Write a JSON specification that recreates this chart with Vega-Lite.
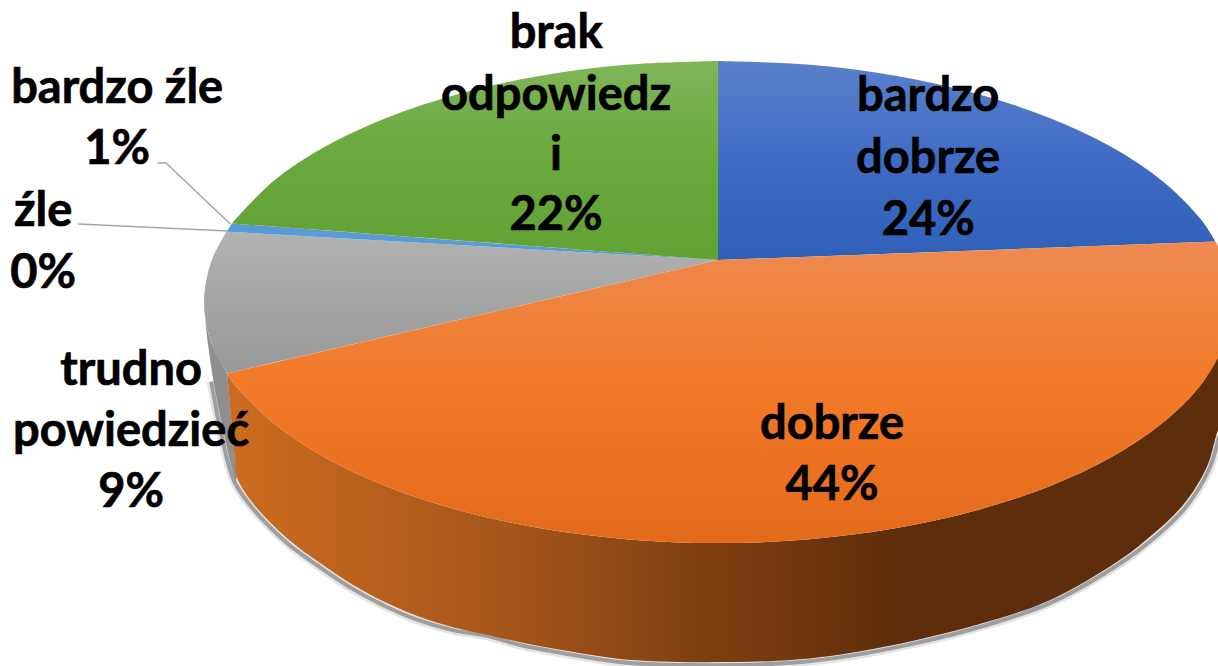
{
"$schema":"https://vega.github.io/schema/vega-lite/v6.json",
"width":1218,"height":666,"padding":0,
"autosize":{"type":"fit","contains":"padding"},
"background":"white",
"view":{"stroke":null},
"datasets":{
"outline":[
{"part":"shadow","n":0,"x":-98.6,"y":-33},{"part":"shadow","n":1,"x":-96.9,"y":-52},{"part":"shadow","n":2,"x":-94.2,"y":-74},{"part":"shadow","n":3,"x":-90.9,"y":-84.6},{"part":"shadow","n":4,"x":-84.3,"y":-99.1},{"part":"shadow","n":5,"x":-77.8,"y":-109.5},{"part":"shadow","n":6,"x":-71.4,"y":-118.6},{"part":"shadow","n":7,"x":-64.8,"y":-126.1},{"part":"shadow","n":8,"x":-58.4,"y":-131.9},{"part":"shadow","n":9,"x":-51.6,"y":-136.1},{"part":"shadow","n":10,"x":-44.9,"y":-138.5},{"part":"shadow","n":11,"x":-38.5,"y":-142.3},{"part":"shadow","n":12,"x":-29.2,"y":-146},{"part":"shadow","n":13,"x":-19.1,"y":-149.3},{"part":"shadow","n":14,"x":-5.8,"y":-150.6},{"part":"shadow","n":15,"x":14.2,"y":-149.7},{"part":"shadow","n":16,"x":25.7,"y":-146.8},{"part":"shadow","n":17,"x":38.7,"y":-141.4},{"part":"shadow","n":18,"x":51.6,"y":-134.4},{"part":"shadow","n":19,"x":64.6,"y":-124.9},{"part":"shadow","n":20,"x":77.8,"y":-109.1},{"part":"shadow","n":21,"x":84.4,"y":-98.7},{"part":"shadow","n":22,"x":90.9,"y":-85.4},{"part":"shadow","n":23,"x":95.5,"y":-69.7},{"part":"shadow","n":24,"x":97.5,"y":-55.6},
{"part":"side trudno powiedzieć","n":0,"x":-95.5,"y":-29.6},{"part":"side trudno powiedzieć","n":1,"x":-95.5,"y":-29.6},{"part":"side trudno powiedzieć","n":2,"x":-98.5,"y":-17.4},{"part":"side trudno powiedzieć","n":3,"x":-99.8,"y":-7},{"part":"side trudno powiedzieć","n":4,"x":-99.8,"y":-7},{"part":"side trudno powiedzieć","n":5,"x":-99.2,"y":-17.8},{"part":"side trudno powiedzieć","n":6,"x":-98.2,"y":-32.4},{"part":"side trudno powiedzieć","n":7,"x":-96.5,"y":-51},{"part":"side trudno powiedzieć","n":8,"x":-93.8,"y":-73.9},{"part":"side trudno powiedzieć","n":9,"x":-93.6,"y":-72.6},{"part":"side trudno powiedzieć","n":10,"x":-94,"y":-64.3},
{"part":"side dobrze","n":0,"x":98.5,"y":-17.4},{"part":"side dobrze","n":1,"x":98.5,"y":-17.4},{"part":"side dobrze","n":2,"x":94,"y":-34.2},{"part":"side dobrze","n":3,"x":86.6,"y":-50},{"part":"side dobrze","n":4,"x":76.6,"y":-64.3},{"part":"side dobrze","n":5,"x":64.3,"y":-76.6},{"part":"side dobrze","n":6,"x":50,"y":-86.6},{"part":"side dobrze","n":7,"x":34.2,"y":-94},{"part":"side dobrze","n":8,"x":17.4,"y":-98.5},{"part":"side dobrze","n":9,"x":0,"y":-100},{"part":"side dobrze","n":10,"x":-17.4,"y":-98.5},{"part":"side dobrze","n":11,"x":-34.2,"y":-94},{"part":"side dobrze","n":12,"x":-50,"y":-86.6},{"part":"side dobrze","n":13,"x":-64.3,"y":-76.6},{"part":"side dobrze","n":14,"x":-76.6,"y":-64.3},{"part":"side dobrze","n":15,"x":-86.6,"y":-50},{"part":"side dobrze","n":16,"x":-94,"y":-34.2},{"part":"side dobrze","n":17,"x":-95.5,"y":-29.6},{"part":"side dobrze","n":18,"x":-95.5,"y":-29.6},{"part":"side dobrze","n":19,"x":-94,"y":-64.3},{"part":"side dobrze","n":20,"x":-93.6,"y":-72.6},{"part":"side dobrze","n":21,"x":-90.5,"y":-83.4},{"part":"side dobrze","n":22,"x":-83.9,"y":-97.9},{"part":"side dobrze","n":23,"x":-77.4,"y":-108.3},{"part":"side dobrze","n":24,"x":-71,"y":-117.4},{"part":"side dobrze","n":25,"x":-64.4,"y":-124.9},{"part":"side dobrze","n":26,"x":-58,"y":-130.7},{"part":"side dobrze","n":27,"x":-51.6,"y":-134.9},{"part":"side dobrze","n":28,"x":-44.9,"y":-138},{"part":"side dobrze","n":29,"x":-38.5,"y":-141.1},{"part":"side dobrze","n":30,"x":-29.2,"y":-144.8},{"part":"side dobrze","n":31,"x":-19.1,"y":-148.1},{"part":"side dobrze","n":32,"x":-5.8,"y":-149.4},{"part":"side dobrze","n":33,"x":14.2,"y":-148.5},{"part":"side dobrze","n":34,"x":25.7,"y":-145.6},{"part":"side dobrze","n":35,"x":38.7,"y":-140.2},{"part":"side dobrze","n":36,"x":51.6,"y":-133.2},{"part":"side dobrze","n":37,"x":64.6,"y":-123.7},{"part":"side dobrze","n":38,"x":77.6,"y":-107.9},{"part":"side dobrze","n":39,"x":84,"y":-97.5},{"part":"side dobrze","n":40,"x":90.5,"y":-84.2},{"part":"side dobrze","n":41,"x":95.1,"y":-68.5},{"part":"side dobrze","n":42,"x":97.1,"y":-54.4},{"part":"side dobrze","n":43,"x":98.4,"y":-46.9},
{"part":"trudno powiedzieć","n":0,"x":0,"y":17.4},{"part":"trudno powiedzieć","n":1,"x":0,"y":17.4},{"part":"trudno powiedzieć","n":2,"x":-95.5,"y":-29.6},{"part":"trudno powiedzieć","n":3,"x":-95.5,"y":-29.6},{"part":"trudno powiedzieć","n":4,"x":-98.5,"y":-17.4},{"part":"trudno powiedzieć","n":5,"x":-100,"y":0},{"part":"trudno powiedzieć","n":6,"x":-98.5,"y":17.4},{"part":"trudno powiedzieć","n":7,"x":-95.6,"y":29.2},
{"part":"bardzo źle","n":0,"x":0,"y":17.4},{"part":"bardzo źle","n":1,"x":-95.6,"y":29.2},{"part":"bardzo źle","n":2,"x":-94.6,"y":32.6},
{"part":"brak odpowiedzi","n":0,"x":0,"y":17.4},{"part":"brak odpowiedzi","n":1,"x":0,"y":17.4},{"part":"brak odpowiedzi","n":2,"x":-94.6,"y":32.6},{"part":"brak odpowiedzi","n":3,"x":-94.6,"y":32.6},{"part":"brak odpowiedzi","n":4,"x":-86.6,"y":50},{"part":"brak odpowiedzi","n":5,"x":-76.6,"y":64.3},{"part":"brak odpowiedzi","n":6,"x":-64.3,"y":76.6},{"part":"brak odpowiedzi","n":7,"x":-50,"y":86.6},{"part":"brak odpowiedzi","n":8,"x":-34.2,"y":94},{"part":"brak odpowiedzi","n":9,"x":-17.4,"y":98.5},{"part":"brak odpowiedzi","n":10,"x":0,"y":100},
{"part":"bardzo dobrze","n":0,"x":0,"y":17.4},{"part":"bardzo dobrze","n":1,"x":0,"y":17.4},{"part":"bardzo dobrze","n":2,"x":0,"y":100},{"part":"bardzo dobrze","n":3,"x":0,"y":100},{"part":"bardzo dobrze","n":4,"x":17.4,"y":98.5},{"part":"bardzo dobrze","n":5,"x":34.2,"y":94},{"part":"bardzo dobrze","n":6,"x":50,"y":86.6},{"part":"bardzo dobrze","n":7,"x":64.3,"y":76.6},{"part":"bardzo dobrze","n":8,"x":76.6,"y":64.3},{"part":"bardzo dobrze","n":9,"x":86.6,"y":50},{"part":"bardzo dobrze","n":10,"x":94,"y":34.2},{"part":"bardzo dobrze","n":11,"x":96.8,"y":25.1},
{"part":"dobrze","n":0,"x":0,"y":17.4},{"part":"dobrze","n":1,"x":0,"y":17.4},{"part":"dobrze","n":2,"x":96.8,"y":25.1},{"part":"dobrze","n":3,"x":96.8,"y":25.1},{"part":"dobrze","n":4,"x":98.5,"y":17.4},{"part":"dobrze","n":5,"x":100,"y":0},{"part":"dobrze","n":6,"x":98.5,"y":-17.4},{"part":"dobrze","n":7,"x":94,"y":-34.2},{"part":"dobrze","n":8,"x":86.6,"y":-50},{"part":"dobrze","n":9,"x":76.6,"y":-64.3},{"part":"dobrze","n":10,"x":64.3,"y":-76.6},{"part":"dobrze","n":11,"x":50,"y":-86.6},{"part":"dobrze","n":12,"x":34.2,"y":-94},{"part":"dobrze","n":13,"x":17.4,"y":-98.5},{"part":"dobrze","n":14,"x":0,"y":-100},{"part":"dobrze","n":15,"x":-17.4,"y":-98.5},{"part":"dobrze","n":16,"x":-34.2,"y":-94},{"part":"dobrze","n":17,"x":-50,"y":-86.6},{"part":"dobrze","n":18,"x":-64.3,"y":-76.6},{"part":"dobrze","n":19,"x":-76.6,"y":-64.3},{"part":"dobrze","n":20,"x":-86.6,"y":-50},{"part":"dobrze","n":21,"x":-94,"y":-34.2},{"part":"dobrze","n":22,"x":-95.5,"y":-29.6},
{"part":"leader bardzo źle","n":0,"x":-109.1,"y":57.7},{"part":"leader bardzo źle","n":1,"x":-107.4,"y":57.7},{"part":"leader bardzo źle","n":2,"x":-94.9,"y":32.4},
{"part":"leader źle","n":0,"x":-124.5,"y":32.4},{"part":"leader źle","n":1,"x":-95.3,"y":29.5}
],
"labels":[
{"text":"brak","x":-31.5,"y":112},{"text":"odpowiedz","x":-31.5,"y":86.3},{"text":"i","x":-31.5,"y":61},{"text":"22%","x":-31.5,"y":36.5},
{"text":"bardzo","x":40.9,"y":85.5},{"text":"dobrze","x":40.9,"y":59.8},{"text":"24%","x":40.9,"y":34.4},
{"text":"dobrze","x":22.2,"y":-50.6},{"text":"44%","x":22.2,"y":-75.9},
{"text":"trudno","x":-114.2,"y":-27.8},{"text":"powiedzieć","x":-114.2,"y":-53.5},{"text":"9%","x":-114.2,"y":-78.8},
{"text":"bardzo źle","x":-116.9,"y":88.8},{"text":"1%","x":-116.9,"y":63.5},
{"text":"źle","x":-131.3,"y":37.8},{"text":"0%","x":-131.3,"y":12.4}
]},
"data":{"name":"outline"},
"encoding":{
"x":{"field":"x","type":"quantitative","scale":{"domain":[-139.7,97.3],"nice":false,"zero":false},"axis":null},
"y":{"field":"y","type":"quantitative","scale":{"domain":[-151,125.3],"nice":false,"zero":false},"axis":null}
},
"layer":[
{"transform":[{"filter":"datum.part==='shadow'"}],"mark":{"type":"line","interpolate":"catmull-rom","clip":true,"fill":null,"stroke":"#777777","strokeOpacity":0.2,"strokeWidth":9},"encoding":{"order":{"field":"n","type":"quantitative"}}},
{"transform":[{"filter":"datum.part==='shadow'"}],"mark":{"type":"line","interpolate":"catmull-rom","clip":true,"fill":null,"stroke":"#6f6f6f","strokeOpacity":0.6,"strokeWidth":4},"encoding":{"order":{"field":"n","type":"quantitative"}}},
{"transform":[{"filter":"datum.part==='side trudno powiedzieć'"}],"mark":{"type":"line","interpolate":"catmull-rom","clip":true,"stroke":null,"fill":"#8f8f8f"},"encoding":{"order":{"field":"n","type":"quantitative"}}},
{"transform":[{"filter":"datum.part==='side dobrze'"}],"mark":{"type":"line","interpolate":"catmull-rom","clip":true,"stroke":null,"fill":{"gradient":"linear","x1":0,"y1":0,"x2":1,"y2":0,"stops":[{"offset":0,"color":"#cc6c20"},{"offset":0.29,"color":"#a5551a"},{"offset":0.48,"color":"#7f3f10"},{"offset":0.68,"color":"#5e2d0b"},{"offset":1,"color":"#5e2d0b"}]}},"encoding":{"order":{"field":"n","type":"quantitative"}}},
{"transform":[{"filter":"datum.part==='trudno powiedzieć'"}],"mark":{"type":"line","interpolate":"catmull-rom","clip":true,"stroke":null,"fill":{"gradient":"linear","x1":0,"y1":0,"x2":0,"y2":1,"stops":[{"offset":0,"color":"#b2b2b2"},{"offset":1,"color":"#989898"}]}},"encoding":{"order":{"field":"n","type":"quantitative"}}},
{"transform":[{"filter":"datum.part==='bardzo źle'"}],"mark":{"type":"line","clip":true,"stroke":null,"fill":"#5b9bd5"},"encoding":{"order":{"field":"n","type":"quantitative"}}},
{"transform":[{"filter":"datum.part==='brak odpowiedzi'"}],"mark":{"type":"line","interpolate":"catmull-rom","clip":true,"stroke":null,"fill":{"gradient":"linear","x1":0,"y1":0,"x2":0,"y2":1,"stops":[{"offset":0,"color":"#80b65a"},{"offset":0.5,"color":"#69a83c"},{"offset":1,"color":"#62a235"}]}},"encoding":{"order":{"field":"n","type":"quantitative"}}},
{"transform":[{"filter":"datum.part==='bardzo dobrze'"}],"mark":{"type":"line","interpolate":"catmull-rom","clip":true,"stroke":null,"fill":{"gradient":"linear","x1":0,"y1":0,"x2":0,"y2":1,"stops":[{"offset":0,"color":"#5a80cb"},{"offset":0.5,"color":"#3f6cc4"},{"offset":1,"color":"#2f60b8"}]}},"encoding":{"order":{"field":"n","type":"quantitative"}}},
{"transform":[{"filter":"datum.part==='dobrze'"}],"mark":{"type":"line","interpolate":"catmull-rom","clip":true,"stroke":null,"fill":{"gradient":"linear","x1":0,"y1":0,"x2":0,"y2":1,"stops":[{"offset":0,"color":"#ee8a52"},{"offset":0.45,"color":"#f27a28"},{"offset":1,"color":"#e36a1b"}]}},"encoding":{"order":{"field":"n","type":"quantitative"}}},
{"transform":[{"filter":"datum.part==='leader bardzo źle'||datum.part==='leader źle'"}],"mark":{"type":"line","stroke":"#a6a6a6","strokeWidth":1.5},"encoding":{"detail":{"field":"part"},"order":{"field":"n","type":"quantitative"}}},
{"data":{"name":"labels"},"mark":{"type":"text","font":"Lato","fontWeight":"bold","fontSize":47,"align":"center","baseline":"middle","dy":1.5,"color":"#000000","stroke":"#000000","strokeWidth":0.7},"encoding":{"text":{"field":"text","type":"nominal"}}}
]
}
